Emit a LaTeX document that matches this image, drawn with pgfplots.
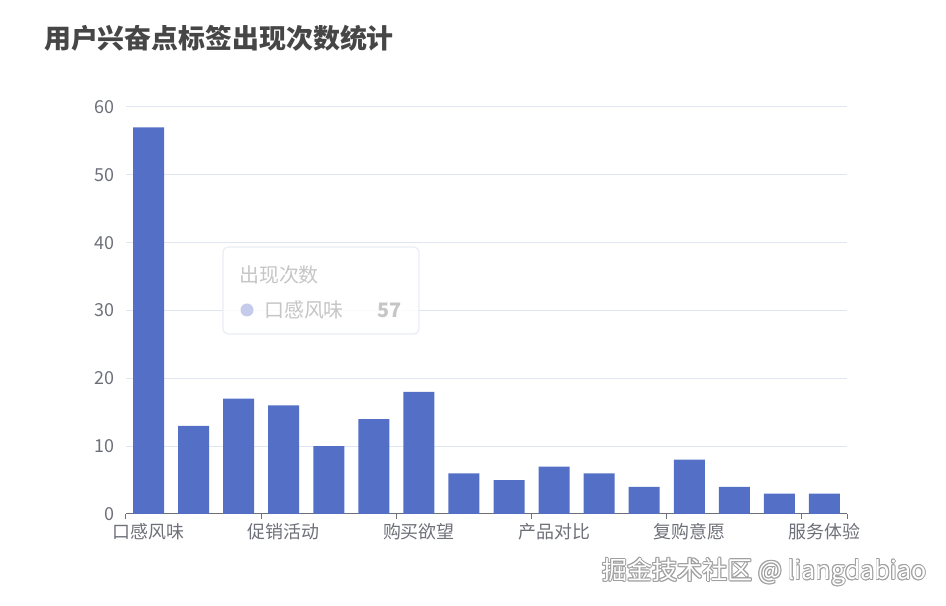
\documentclass[border=0pt]{standalone}
\usepackage{pgfplots}
\pgfplotsset{compat=1.18}
\usepackage{fontspec}
\setmainfont{Noto Sans CJK SC}
\definecolor{barc}{HTML}{5470C6}
\definecolor{axisgray}{HTML}{6E7079}
\definecolor{gridc}{HTML}{E0E6F1}
\definecolor{titlec}{HTML}{464646}
\definecolor{tipc}{HTML}{C6C6C6}
\definecolor{dotc}{HTML}{C5CBEA}
\begin{document}
\begin{tikzpicture}[x=1bp,y=1bp]
\path[use as bounding box] (-126,-92) rectangle (820,514);
\begin{axis}[
  at={(0,0)}, anchor=south west,
  scale only axis, width=721bp, height=407bp,
  xmin=-0.5, xmax=15.5, ymin=0, ymax=60,
  ytick={0,10,...,60},
  ymajorgrids, grid style={gridc, line width=1bp},
  axis lines*=left,
  x axis line style={axisgray, line width=1bp},
  y axis line style={draw=none},
  ytick style={draw=none},
  xtick={-0.5,2.5,5.5,8.5,11.5,14.5,15.5},
  xticklabels={},
  xtick pos=bottom,
  tick align=outside,
  major tick length=5bp,
  xtick style={axisgray, line width=1bp},
  extra x ticks={0,3,6,9,12,15},
  extra x tick labels={口感风味,促销活动,购买欲望,产品对比,复购意愿,服务体验},
  extra x tick style={major tick length=0pt},
  /pgf/number format/assume math mode=true,
  yticklabel style={axisgray, font=\fontsize{18}{18}\selectfont, xshift=-3bp},
  xticklabel style={axisgray, font=\fontsize{18}{18}\selectfont, yshift=-6bp},
]
\addplot[ybar, fill=barc, draw=none, bar width=31bp] coordinates {
(0,57) (1,13) (2,17) (3,16) (4,10) (5,14) (6,18) (7,6)
(8,5) (9,7) (10,6) (11,4) (12,8) (13,4) (14,3) (15,3)};
\end{axis}
% title
\node[anchor=west, inner sep=0pt, text=titlec, font=\fontsize{27}{27}\bfseries\selectfont] at (-82,476) {用户兴奋点标签出现次数统计};
% tooltip
\draw[draw=gridc!70, line width=1.2bp, fill=white, fill opacity=0.85, rounded corners=5bp] (97,267) rectangle (293,180);
\node[anchor=west, inner sep=0pt, text=tipc, font=\fontsize{20}{20}\selectfont] at (113,239) {出现次数};
\fill[dotc] (121,204) circle (6.5);
\node[anchor=west, inner sep=0pt, text=tipc, font=\fontsize{20}{20}\selectfont] at (138,204) {口感风味};
\node[anchor=east, inner sep=0pt, text=tipc, font=\fontsize{20}{20}\bfseries\selectfont] at (276,204) {57};
% watermark
\foreach \dx/\dy in {0.8/0,-0.8/0,0/0.8,0/-0.8,0.6/0.6,-0.6/-0.6,0.6/-0.6,-0.6/0.6}{
  \node[anchor=west, inner sep=0pt, text=gray!75, font=\fontsize{25.2}{25.2}\selectfont] at (476+\dx,-58+\dy) {掘金技术社区 @ liangdabiao};
}
\node[anchor=west, inner sep=0pt, text=white, font=\fontsize{25.2}{25.2}\selectfont] at (476,-58) {掘金技术社区 @ liangdabiao};
\end{tikzpicture}
\end{document}
